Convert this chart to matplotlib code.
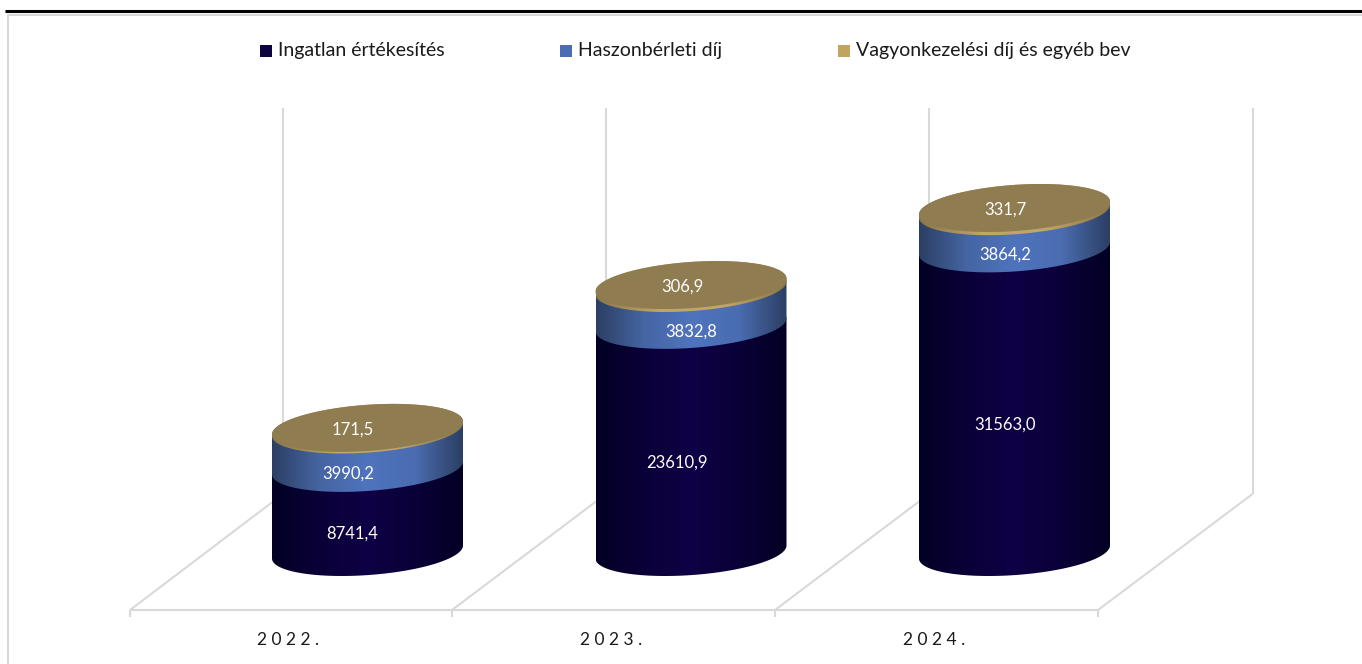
import numpy as np
import matplotlib
matplotlib.use('Agg')
from matplotlib import pyplot as plt
from matplotlib.colors import LinearSegmentedColormap
from matplotlib.patches import Polygon, Rectangle

plt.rcParams['font.family'] = ['Lato', 'DejaVu Sans']

years = ['2022.', '2023.', '2024.']
ingatlan = [8741.4, 23610.9, 31563.0]
haszon = [3990.2, 3832.8, 3864.2]
vagyon = [171.5, 306.9, 331.7]
series_names = ['Ingatlan értékesítés', 'Haszonbérleti díj', 'Vagyonkezelési díj és egyéb bev']

# pixel layout of the picture
W, H = 1362, 664
BASE = 552.0      # pixel row of value 0 on the cylinder axis
K = 0.00962       # pixels per unit
centers = [367.5, 691.0, 1014.5]
A, B, TILT = 95.5, 23.1, 6.5   # ellipse half width, half height, shear

fig = plt.figure(figsize=(W / 100, H / 100), dpi=100)
ax = fig.add_axes([0, 0, 1, 1])


def val(py):
    # pixel row to value
    return (BASE - py) / K


def line(xs, pys, color='#d9d9d9', lw=1.5, z=1):
    ax.plot(xs, [val(p) for p in pys], color=color, lw=lw, zorder=z, solid_capstyle='butt')


def rim(cx, v, t):
    x = cx + A * np.cos(t)
    y = v + (B * np.sin(t) + TILT * np.cos(t)) / K
    return x, y


navy_cm = LinearSegmentedColormap.from_list('navy', ['#020024', '#0a0038', '#0f0045', '#0a0038', '#020024'])
blue_cm = LinearSegmentedColormap.from_list('blue', ['#2c3f63', '#4565a3', '#4f74bd', '#4a6cb0', '#2c3f63'])
tan_cm = LinearSegmentedColormap.from_list('tan', ['#8a7648', '#c2a566', '#c2a566', '#8a7648'])

# runs clockwise from the right edge: front arc first, then the back arc
t = -np.linspace(0, 2 * np.pi, 181)


def side(cx, v0, v1, cmap):
    # body of one stacked segment, horizontal shading clipped to the outline
    xb, yb = rim(cx, v0, t[:91])
    xt, yt = rim(cx, v1, t[90:])
    outline = Polygon(np.column_stack([np.r_[xb, xt], np.r_[yb, yt]]), closed=True,
                      transform=ax.transData, fc='none', ec='none')
    ax.add_patch(outline)
    grad = np.linspace(0, 1, 256)[None, :]
    im = ax.imshow(grad, cmap=cmap, aspect='auto', zorder=3,
                   extent=(cx - A, cx + A, val(H), val(0)), origin='lower')
    im.set_clip_path(outline)


# outer frame
ax.add_patch(Rectangle((8, val(720)), 1500, val(15) - val(720), fc='white', ec='#d9d9d9', lw=1.5, zorder=0))
line([5, W], [11, 11], color='black', lw=2.2, z=6)

# back walls and floor
wall_x = [283, 606, 929, 1252.5]
front_x = [130, 452, 775, 1098]
for xw, xf in zip(wall_x, front_x):
    line([xw, xw], [108, 494])
    line([xf, xw], [610, 494])
    line([xf, xf], [610, 617])
line([front_x[0], front_x[-1]], [610, 610])

label_dx = [[-15, -19, -15], [-14, 0, -9], [-9, -9, -9]]
for i, cx in enumerate(centers):
    v1 = ingatlan[i]
    v2 = v1 + haszon[i]
    v3 = v2 + vagyon[i]
    side(cx, 0, v1, navy_cm)
    side(cx, v1, v2, blue_cm)
    side(cx, v2, v3, tan_cm)
    xe, ye = rim(cx, v3, t)
    ax.fill(xe, ye, fc='#8f7c50', ec='none', zorder=4)
    lab = dict(color='white', fontsize=12, ha='center', va='center', zorder=5)
    ax.text(cx + label_dx[i][0], v1 / 2 - 24 / K, f'{ingatlan[i]:.1f}'.replace('.', ','), **lab)
    ax.text(cx + label_dx[i][1], v1 + haszon[i] / 2 - 25 / K, f'{haszon[i]:.1f}'.replace('.', ','), **lab)
    ax.text(cx + label_dx[i][2], v3 - 2 / K, f'{vagyon[i]:.1f}'.replace('.', ','), **lab)
    ax.text((front_x[i] + front_x[i + 1]) / 2 - 2.5, val(640), ' '.join(years[i]), color='#1a1a1a',
            fontsize=12.5, ha='center', va='center')

# legend
legend_x = [260, 560, 838]
legend_colors = ['#0d0440', '#4a6db3', '#c0a45f']
for lx, name, c in zip(legend_x, series_names, legend_colors):
    ax.add_patch(Rectangle((lx, val(57)), 12, 12 / K, fc=c, ec='none', zorder=5))
    ax.text(lx + 18, val(50.5), name, color='#1a1a1a', fontsize=14, ha='left', va='center')

ax.set_xlim(0, W)
ax.set_ylim(val(H), val(0))
ax.axis('off')
fig.savefig('out.png', dpi=100, facecolor='white')
